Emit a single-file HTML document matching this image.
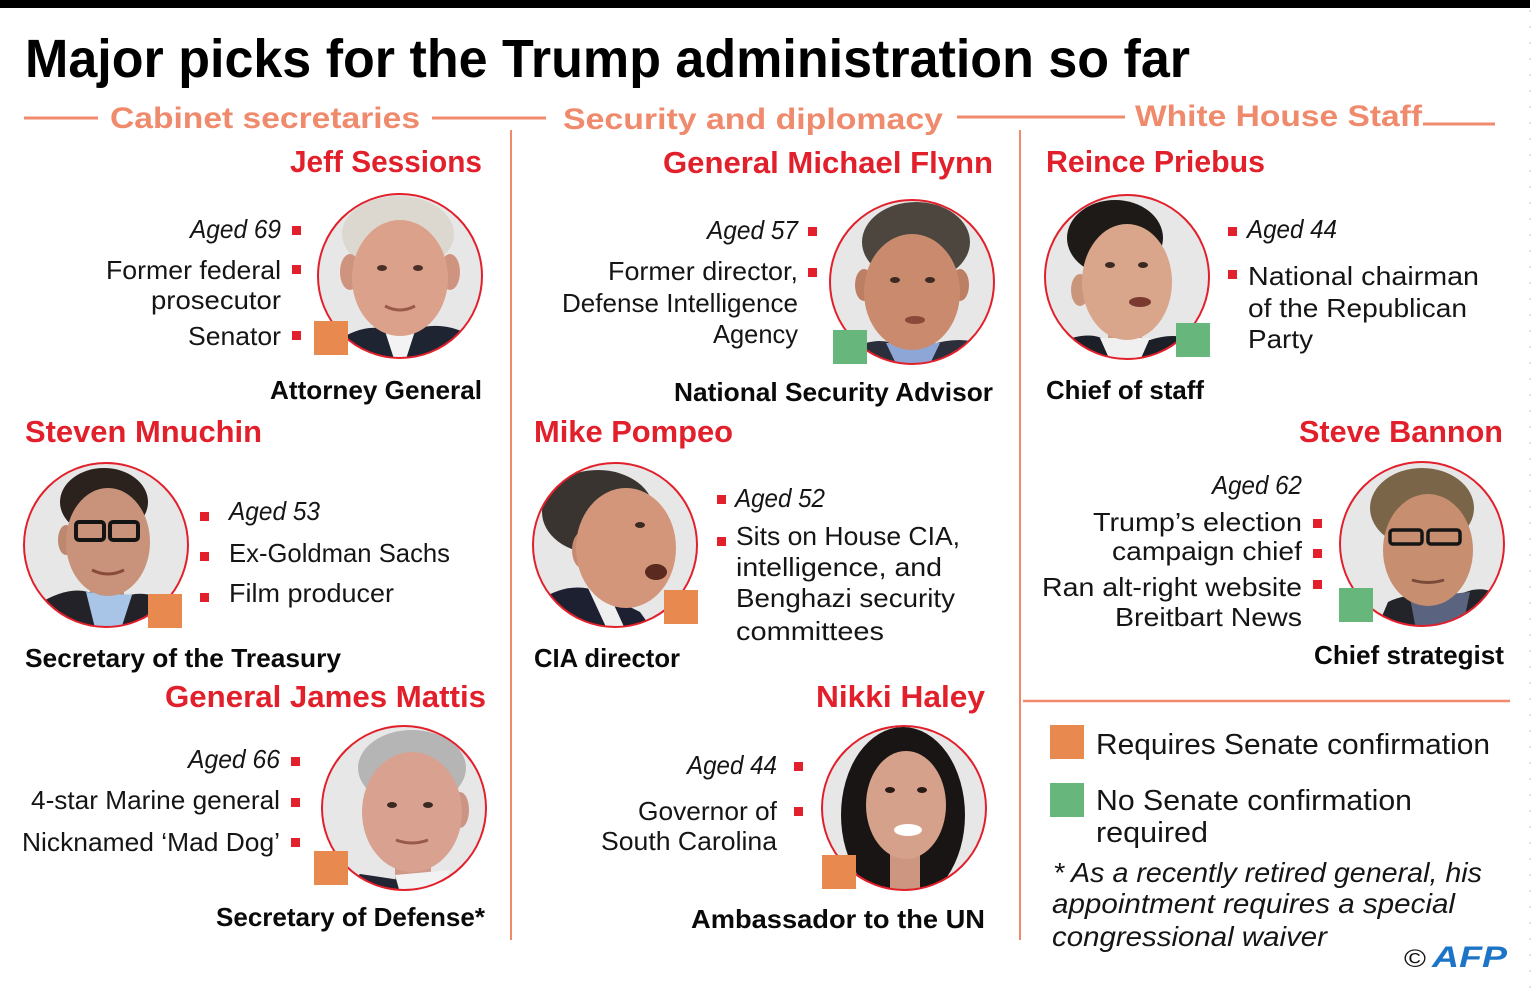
<!DOCTYPE html>
<html>
<head>
<meta charset="utf-8">
<style>
  html,body{margin:0;padding:0;background:#fff;}
  svg{display:block;}
  text{font-family:"Liberation Sans",Arial,sans-serif;}
  .t{font-weight:bold;fill:#000;}
  .sec{font-weight:bold;fill:#ef8a6d;}
  .nm{font-weight:bold;fill:#e1202b;}
  .rl{font-weight:bold;fill:#0a0a0a;}
  .b{fill:#151515;}
  .i{fill:#151515;font-style:italic;}
</style>
</head>
<body>
<svg width="1532" height="988" viewBox="0 0 1532 988" xmlns="http://www.w3.org/2000/svg">
  <defs>
    <clipPath id="c1"><circle cx="400" cy="276" r="82"/></clipPath>
    <clipPath id="c2"><circle cx="912" cy="282" r="82"/></clipPath>
    <clipPath id="c3"><circle cx="1127" cy="277" r="82"/></clipPath>
    <clipPath id="c4"><circle cx="106" cy="545" r="82"/></clipPath>
    <clipPath id="c5"><circle cx="615" cy="545" r="82"/></clipPath>
    <clipPath id="c6"><circle cx="1422" cy="544" r="82"/></clipPath>
    <clipPath id="c7"><circle cx="404" cy="808" r="82"/></clipPath>
    <clipPath id="c8"><circle cx="904" cy="808" r="82"/></clipPath>
  </defs>

  <rect x="0" y="0" width="1532" height="988" fill="#fff"/>
  <rect x="0" y="0" width="1530" height="8" fill="#000"/>
  <line x1="1530" y1="10" x2="1530" y2="988" stroke="#c8c8c8" stroke-width="1" stroke-dasharray="2,14"/>

  <!-- Title -->
  <text class="t" x="25" y="77" font-size="54" textLength="1165" lengthAdjust="spacingAndGlyphs">Major picks for the Trump administration so far</text>

  <!-- Section headers -->
  <line x1="24" y1="118" x2="98" y2="118" stroke="#ef8a6d" stroke-width="3"/>
  <text class="sec" x="110" y="128" font-size="30" textLength="310" lengthAdjust="spacingAndGlyphs">Cabinet secretaries</text>
  <line x1="432" y1="118" x2="546" y2="118" stroke="#ef8a6d" stroke-width="3"/>
  <text class="sec" x="563" y="129" font-size="30" textLength="380" lengthAdjust="spacingAndGlyphs">Security and diplomacy</text>
  <line x1="957" y1="117" x2="1125" y2="117" stroke="#ef8a6d" stroke-width="3"/>
  <text class="sec" x="1135" y="126" font-size="30" textLength="287" lengthAdjust="spacingAndGlyphs">White House Staff</text>
  <line x1="1423" y1="124" x2="1495" y2="124" stroke="#ef8a6d" stroke-width="3"/>

  <!-- dividers -->
  <line x1="511" y1="130" x2="511" y2="940" stroke="#ef8a6d" stroke-width="2"/>
  <line x1="1020" y1="130" x2="1020" y2="940" stroke="#ef8a6d" stroke-width="2"/>
  <line x1="1023" y1="701" x2="1510" y2="701" stroke="#ef8a6d" stroke-width="2.5"/>

  <!-- ===== Jeff Sessions ===== -->
  <text class="nm" x="290" y="172" font-size="31" textLength="192" lengthAdjust="spacingAndGlyphs">Jeff Sessions</text>
  <text class="i" x="190" y="238" font-size="26" textLength="91" lengthAdjust="spacingAndGlyphs">Aged 69</text>
  <text class="b" x="106" y="279" font-size="26" textLength="175" lengthAdjust="spacingAndGlyphs">Former federal</text>
  <text class="b" x="151" y="309" font-size="26" textLength="130" lengthAdjust="spacingAndGlyphs">prosecutor</text>
  <text class="b" x="188" y="345" font-size="26" textLength="93" lengthAdjust="spacingAndGlyphs">Senator</text>
  <rect x="292" y="226" width="9" height="9" fill="#e1202b"/>
  <rect x="292" y="265" width="9" height="9" fill="#e1202b"/>
  <rect x="292" y="331" width="9" height="9" fill="#e1202b"/>
  <g clip-path="url(#c1)">
    <circle cx="400" cy="276" r="82" fill="#e7e7e7"/>
    <rect x="385" y="310" width="30" height="30" fill="#d09682"/>
    <path d="M318 370 L335 342 Q365 322 388 330 L412 330 Q440 320 468 334 L490 370 Z" fill="#1f2433"/>
    <path d="M384 328 L416 328 L405 362 L395 362 Z" fill="#f3f3f3"/>
    <ellipse cx="398" cy="234" rx="56" ry="38" fill="#dcd8cf"/>
    <ellipse cx="350" cy="272" rx="10" ry="18" fill="#cf9480"/>
    <ellipse cx="450" cy="272" rx="10" ry="18" fill="#cf9480"/>
    <ellipse cx="400" cy="278" rx="48" ry="58" fill="#dca18a"/>
    <ellipse cx="382" cy="268" rx="5" ry="3" fill="#4a3028"/>
    <ellipse cx="418" cy="268" rx="5" ry="3" fill="#4a3028"/>
    <path d="M385 306 Q400 314 415 306" stroke="#9a5a4a" stroke-width="3" fill="none"/>
  </g>
  <circle cx="400" cy="276" r="82" fill="none" stroke="#e1202b" stroke-width="2"/>
  <rect x="314" y="321" width="34" height="34" fill="#e8894f"/>
  <text class="rl" x="270" y="399" font-size="26" textLength="212" lengthAdjust="spacingAndGlyphs">Attorney General</text>

  <!-- ===== Michael Flynn ===== -->
  <text class="nm" x="663" y="173" font-size="31" textLength="330" lengthAdjust="spacingAndGlyphs">General Michael Flynn</text>
  <text class="i" x="707" y="239" font-size="26" textLength="91" lengthAdjust="spacingAndGlyphs">Aged 57</text>
  <text class="b" x="608" y="280" font-size="26" textLength="190" lengthAdjust="spacingAndGlyphs">Former director,</text>
  <text class="b" x="562" y="312" font-size="26" textLength="236" lengthAdjust="spacingAndGlyphs">Defense Intelligence</text>
  <text class="b" x="713" y="343" font-size="26" textLength="85" lengthAdjust="spacingAndGlyphs">Agency</text>
  <rect x="808" y="227" width="9" height="9" fill="#e1202b"/>
  <rect x="808" y="268" width="9" height="9" fill="#e1202b"/>
  <g clip-path="url(#c2)">
    <circle cx="912" cy="282" r="82" fill="#e7e7e7"/>
    <rect x="895" y="320" width="34" height="30" fill="#c08066"/>
    <path d="M830 380 L848 350 Q878 335 896 345 L930 345 Q960 335 985 345 L1000 380 Z" fill="#2b2f3c"/>
    <path d="M886 343 L940 343 L926 372 L900 372 Z" fill="#8ea6d6"/>
    <ellipse cx="916" cy="242" rx="54" ry="40" fill="#4d463e"/>
    <ellipse cx="864" cy="285" rx="9" ry="16" fill="#bd7f64"/>
    <ellipse cx="960" cy="285" rx="9" ry="16" fill="#bd7f64"/>
    <ellipse cx="912" cy="292" rx="48" ry="58" fill="#c98a6d"/>
    <ellipse cx="895" cy="280" rx="5" ry="3" fill="#3a2a22"/>
    <ellipse cx="930" cy="280" rx="5" ry="3" fill="#3a2a22"/>
    <ellipse cx="915" cy="320" rx="10" ry="4" fill="#8a4a3a"/>
  </g>
  <circle cx="912" cy="282" r="82" fill="none" stroke="#e1202b" stroke-width="2"/>
  <rect x="833" y="330" width="34" height="34" fill="#67b67c"/>
  <text class="rl" x="674" y="401" font-size="26" textLength="319" lengthAdjust="spacingAndGlyphs">National Security Advisor</text>

  <!-- ===== Reince Priebus ===== -->
  <text class="nm" x="1046" y="172" font-size="31" textLength="219" lengthAdjust="spacingAndGlyphs">Reince Priebus</text>
  <rect x="1228" y="227" width="9" height="9" fill="#e1202b"/>
  <rect x="1228" y="270" width="9" height="9" fill="#e1202b"/>
  <text class="i" x="1247" y="238" font-size="26" textLength="90" lengthAdjust="spacingAndGlyphs">Aged 44</text>
  <text class="b" x="1248" y="285" font-size="26" textLength="231" lengthAdjust="spacingAndGlyphs">National chairman</text>
  <text class="b" x="1248" y="317" font-size="26" textLength="219" lengthAdjust="spacingAndGlyphs">of the Republican</text>
  <text class="b" x="1248" y="348" font-size="26" textLength="65" lengthAdjust="spacingAndGlyphs">Party</text>
  <g clip-path="url(#c3)">
    <circle cx="1127" cy="277" r="82" fill="#e7e7e7"/>
    <rect x="1108" y="320" width="34" height="30" fill="#cf9c82"/>
    <path d="M1045 370 L1060 342 Q1090 330 1105 340 L1150 340 Q1180 330 1200 345 L1212 370 Z" fill="#1d1f28"/>
    <path d="M1100 338 L1150 338 L1138 365 L1112 365 Z" fill="#f0f0f0"/>
    <ellipse cx="1115" cy="238" rx="48" ry="38" fill="#1e1a18"/>
    <ellipse cx="1080" cy="290" rx="9" ry="16" fill="#c9967c"/>
    <ellipse cx="1127" cy="282" rx="45" ry="58" fill="#d9a68c"/>
    <ellipse cx="1110" cy="265" rx="5" ry="3" fill="#3a2a22"/>
    <ellipse cx="1143" cy="265" rx="5" ry="3" fill="#3a2a22"/>
    <ellipse cx="1140" cy="302" rx="11" ry="5" fill="#7a3a30"/>
  </g>
  <circle cx="1127" cy="277" r="82" fill="none" stroke="#e1202b" stroke-width="2"/>
  <rect x="1176" y="323" width="34" height="34" fill="#67b67c"/>
  <text class="rl" x="1046" y="399" font-size="26" textLength="158" lengthAdjust="spacingAndGlyphs">Chief of staff</text>

  <!-- ===== Steven Mnuchin ===== -->
  <text class="nm" x="25" y="442" font-size="31" textLength="237" lengthAdjust="spacingAndGlyphs">Steven Mnuchin</text>
  <g clip-path="url(#c4)">
    <circle cx="106" cy="545" r="82" fill="#e7e7e7"/>
    <rect x="90" y="575" width="34" height="25" fill="#bf8a70"/>
    <path d="M20 640 L38 604 Q68 586 88 592 L130 595 Q152 590 172 606 L192 640 Z" fill="#222228"/>
    <path d="M86 592 L132 595 L120 632 L96 632 Z" fill="#a8c4e6"/>
    <ellipse cx="104" cy="502" rx="44" ry="34" fill="#2b211d"/>
    <ellipse cx="66" cy="540" rx="8" ry="15" fill="#bd8870"/>
    <ellipse cx="108" cy="542" rx="42" ry="54" fill="#c8937a"/>
    <rect x="76" y="522" width="28" height="18" rx="3" fill="none" stroke="#141414" stroke-width="4"/>
    <rect x="110" y="522" width="28" height="18" rx="3" fill="none" stroke="#141414" stroke-width="4"/>
    <path d="M92 570 Q108 578 124 570" stroke="#8a4a3a" stroke-width="3" fill="none"/>
  </g>
  <circle cx="106" cy="545" r="82" fill="none" stroke="#e1202b" stroke-width="2"/>
  <rect x="148" y="594" width="34" height="34" fill="#e8894f"/>
  <rect x="200" y="512" width="9" height="9" fill="#e1202b"/>
  <rect x="200" y="552" width="9" height="9" fill="#e1202b"/>
  <rect x="200" y="593" width="9" height="9" fill="#e1202b"/>
  <text class="i" x="229" y="520" font-size="26" textLength="91" lengthAdjust="spacingAndGlyphs">Aged 53</text>
  <text class="b" x="229" y="562" font-size="26" textLength="221" lengthAdjust="spacingAndGlyphs">Ex-Goldman Sachs</text>
  <text class="b" x="229" y="602" font-size="26" textLength="165" lengthAdjust="spacingAndGlyphs">Film producer</text>
  <text class="rl" x="25" y="667" font-size="26" textLength="316" lengthAdjust="spacingAndGlyphs">Secretary of the Treasury</text>

  <!-- ===== Mike Pompeo ===== -->
  <text class="nm" x="534" y="442" font-size="31" textLength="199" lengthAdjust="spacingAndGlyphs">Mike Pompeo</text>
  <g clip-path="url(#c5)">
    <circle cx="615" cy="545" r="82" fill="#e7e7e7"/>
    <path d="M528 640 L540 600 Q570 580 600 592 L640 612 L660 640 Z" fill="#1d2030"/>
    <path d="M588 588 L610 596 L630 640 L612 640 Z" fill="#efefef"/>
    <ellipse cx="598" cy="512" rx="56" ry="42" fill="#3a3430"/>
    <ellipse cx="582" cy="550" rx="10" ry="18" fill="#c58a70"/>
    <ellipse cx="626" cy="548" rx="50" ry="60" fill="#d3967a"/>
    <ellipse cx="640" cy="525" rx="5" ry="3" fill="#3a2a22"/>
    <ellipse cx="656" cy="572" rx="11" ry="8" fill="#5a2a20"/>
  </g>
  <circle cx="615" cy="545" r="82" fill="none" stroke="#e1202b" stroke-width="2"/>
  <rect x="664" y="590" width="34" height="34" fill="#e8894f"/>
  <rect x="717" y="495" width="9" height="9" fill="#e1202b"/>
  <rect x="717" y="537" width="9" height="9" fill="#e1202b"/>
  <text class="i" x="735" y="507" font-size="26" textLength="90" lengthAdjust="spacingAndGlyphs">Aged 52</text>
  <text class="b" x="736" y="545" font-size="26" textLength="224" lengthAdjust="spacingAndGlyphs">Sits on House CIA,</text>
  <text class="b" x="736" y="576" font-size="26" textLength="206" lengthAdjust="spacingAndGlyphs">intelligence, and</text>
  <text class="b" x="736" y="607" font-size="26" textLength="219" lengthAdjust="spacingAndGlyphs">Benghazi security</text>
  <text class="b" x="736" y="640" font-size="26" textLength="148" lengthAdjust="spacingAndGlyphs">committees</text>
  <text class="rl" x="534" y="667" font-size="26" textLength="146" lengthAdjust="spacingAndGlyphs">CIA director</text>

  <!-- ===== Steve Bannon ===== -->
  <text class="nm" x="1299" y="442" font-size="31" textLength="204" lengthAdjust="spacingAndGlyphs">Steve Bannon</text>
  <text class="i" x="1212" y="494" font-size="26" textLength="90" lengthAdjust="spacingAndGlyphs">Aged 62</text>
  <text class="b" x="1093" y="531" font-size="26" textLength="209" lengthAdjust="spacingAndGlyphs">Trump’s election</text>
  <text class="b" x="1112" y="560" font-size="26" textLength="190" lengthAdjust="spacingAndGlyphs">campaign chief</text>
  <text class="b" x="1042" y="596" font-size="26" textLength="260" lengthAdjust="spacingAndGlyphs">Ran alt-right website</text>
  <text class="b" x="1115" y="626" font-size="26" textLength="187" lengthAdjust="spacingAndGlyphs">Breitbart News</text>
  <rect x="1313" y="519" width="9" height="9" fill="#e1202b"/>
  <rect x="1313" y="549" width="9" height="9" fill="#e1202b"/>
  <rect x="1313" y="580" width="9" height="9" fill="#e1202b"/>
  <g clip-path="url(#c6)">
    <circle cx="1422" cy="544" r="82" fill="#e7e7e7"/>
    <path d="M1372 640 L1388 602 Q1412 590 1440 600 L1472 590 Q1498 585 1512 612 L1515 640 Z" fill="#22242a"/>
    <path d="M1410 598 L1470 592 L1460 640 L1418 640 Z" fill="#5a6480"/>
    <ellipse cx="1422" cy="508" rx="52" ry="40" fill="#7a6548"/>
    <ellipse cx="1428" cy="550" rx="45" ry="56" fill="#c78e70"/>
    <rect x="1390" y="530" width="32" height="14" rx="3" fill="none" stroke="#151515" stroke-width="3.5"/>
    <rect x="1428" y="530" width="32" height="14" rx="3" fill="none" stroke="#151515" stroke-width="3.5"/>
    <path d="M1412 580 Q1428 585 1444 580" stroke="#7a4a3a" stroke-width="3" fill="none"/>
  </g>
  <circle cx="1422" cy="544" r="82" fill="none" stroke="#e1202b" stroke-width="2"/>
  <rect x="1339" y="588" width="34" height="34" fill="#67b67c"/>
  <text class="rl" x="1314" y="664" font-size="26" textLength="190" lengthAdjust="spacingAndGlyphs">Chief strategist</text>

  <!-- ===== James Mattis ===== -->
  <text class="nm" x="165" y="707" font-size="31" textLength="321" lengthAdjust="spacingAndGlyphs">General James Mattis</text>
  <text class="i" x="188" y="768" font-size="26" textLength="92" lengthAdjust="spacingAndGlyphs">Aged 66</text>
  <text class="b" x="31" y="809" font-size="26" textLength="249" lengthAdjust="spacingAndGlyphs">4-star Marine general</text>
  <text class="b" x="22" y="851" font-size="26" textLength="258" lengthAdjust="spacingAndGlyphs">Nicknamed ‘Mad Dog’</text>
  <rect x="291" y="757" width="9" height="9" fill="#e1202b"/>
  <rect x="291" y="798" width="9" height="9" fill="#e1202b"/>
  <rect x="291" y="838" width="9" height="9" fill="#e1202b"/>
  <g clip-path="url(#c7)">
    <circle cx="404" cy="808" r="82" fill="#e7e7e7"/>
    <rect x="395" y="850" width="36" height="30" fill="#cf9888"/>
    <path d="M330 900 L360 874 L400 880 L450 880 L478 858 L495 900 Z" fill="#222533"/>
    <path d="M395 875 L450 870 L440 900 L402 900 Z" fill="#f2f2f2"/>
    <ellipse cx="412" cy="768" rx="54" ry="38" fill="#b5b5b5"/>
    <ellipse cx="460" cy="810" rx="9" ry="18" fill="#cc9484"/>
    <ellipse cx="412" cy="812" rx="50" ry="60" fill="#d8a190"/>
    <ellipse cx="392" cy="805" rx="5" ry="3" fill="#3a2a22"/>
    <ellipse cx="428" cy="805" rx="5" ry="3" fill="#3a2a22"/>
    <path d="M396 840 Q412 846 428 840" stroke="#9a5a4a" stroke-width="3" fill="none"/>
  </g>
  <circle cx="404" cy="808" r="82" fill="none" stroke="#e1202b" stroke-width="2"/>
  <rect x="314" y="851" width="34" height="34" fill="#e8894f"/>
  <text class="rl" x="216" y="926" font-size="26" textLength="269" lengthAdjust="spacingAndGlyphs">Secretary of Defense*</text>

  <!-- ===== Nikki Haley ===== -->
  <text class="nm" x="816" y="707" font-size="31" textLength="169" lengthAdjust="spacingAndGlyphs">Nikki Haley</text>
  <text class="i" x="687" y="774" font-size="26" textLength="90" lengthAdjust="spacingAndGlyphs">Aged 44</text>
  <text class="b" x="638" y="820" font-size="26" textLength="139" lengthAdjust="spacingAndGlyphs">Governor of</text>
  <text class="b" x="601" y="850" font-size="26" textLength="176" lengthAdjust="spacingAndGlyphs">South Carolina</text>
  <rect x="794" y="762" width="9" height="9" fill="#e1202b"/>
  <rect x="794" y="807" width="9" height="9" fill="#e1202b"/>
  <g clip-path="url(#c8)">
    <circle cx="904" cy="808" r="82" fill="#e7e7e7"/>
    <ellipse cx="903" cy="815" rx="62" ry="88" fill="#1a1515"/>
    <rect x="890" y="850" width="30" height="40" fill="#cc9680"/>
    <ellipse cx="906" cy="805" rx="40" ry="54" fill="#d6a18a"/>
    <ellipse cx="890" cy="790" rx="5" ry="3" fill="#2a1a15"/>
    <ellipse cx="922" cy="790" rx="5" ry="3" fill="#2a1a15"/>
    <ellipse cx="908" cy="830" rx="14" ry="6" fill="#ffffff"/>
  </g>
  <circle cx="904" cy="808" r="82" fill="none" stroke="#e1202b" stroke-width="2"/>
  <rect x="822" y="855" width="34" height="34" fill="#e8894f"/>
  <text class="rl" x="691" y="928" font-size="26" textLength="294" lengthAdjust="spacingAndGlyphs">Ambassador to the UN</text>

  <!-- ===== Legend ===== -->
  <rect x="1050" y="725" width="34" height="34" fill="#e8894f"/>
  <text class="b" x="1096" y="754" font-size="29" textLength="394" lengthAdjust="spacingAndGlyphs">Requires Senate confirmation</text>
  <rect x="1050" y="783" width="34" height="34" fill="#67b67c"/>
  <text class="b" x="1096" y="810" font-size="29" textLength="316" lengthAdjust="spacingAndGlyphs">No Senate confirmation</text>
  <text class="b" x="1096" y="842" font-size="29" textLength="112" lengthAdjust="spacingAndGlyphs">required</text>
  <text class="i" x="1053" y="882" font-size="28" textLength="429" lengthAdjust="spacingAndGlyphs">* As a recently retired general, his</text>
  <text class="i" x="1052" y="913" font-size="28" textLength="403" lengthAdjust="spacingAndGlyphs">appointment requires a special</text>
  <text class="i" x="1052" y="946" font-size="28" textLength="275" lengthAdjust="spacingAndGlyphs">congressional waiver</text>

  <!-- © AFP -->
  <text x="1404" y="967" font-size="25" fill="#111" textLength="22" lengthAdjust="spacingAndGlyphs">©</text>
  <text x="1432" y="967" font-size="30" font-weight="bold" font-style="italic" fill="#1c74c6" textLength="75" lengthAdjust="spacingAndGlyphs">AFP</text>
</svg>
</body>
</html>
